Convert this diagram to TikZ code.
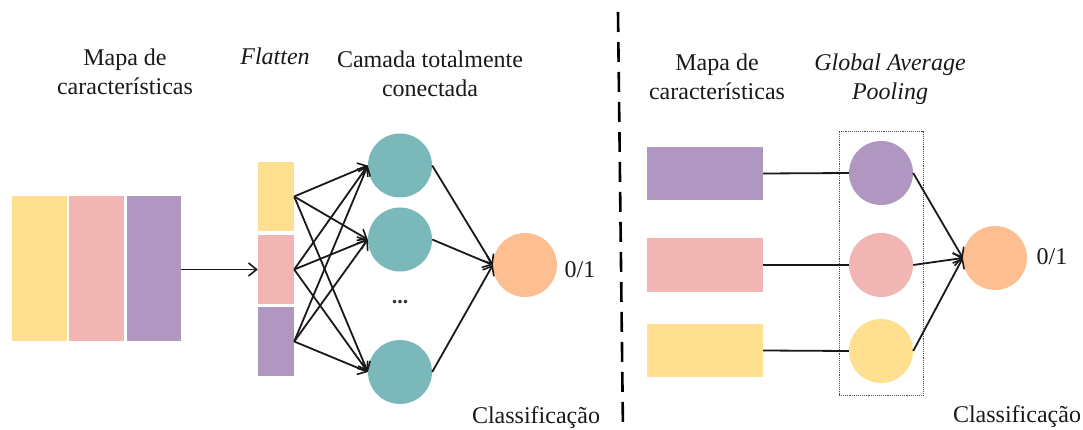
\documentclass[tikz,border=0pt]{standalone}
\usepackage{fontspec}
\setmainfont{Liberation Serif}
\usetikzlibrary{arrows.meta}

\definecolor{cyellow}{RGB}{255,224,145}
\definecolor{cpink}{RGB}{241,182,180}
\definecolor{cpurple}{RGB}{176,151,194}
\definecolor{cteal}{RGB}{122,184,186}
\definecolor{corange}{RGB}{253,190,146}

\tikzset{
  block/.style={rectangle, draw=none, inner sep=0pt},
  neuron/.style={circle, draw=none, inner sep=0pt, minimum size=64pt},
  lbl/.style={font=\fontsize{24}{29}\selectfont, inner sep=0pt, align=center, anchor=base, text=black!90},
  conn/.style={line width=1.8pt, black!90},
  arr/.style={conn, -{Straight Barb[length=8pt,width=13pt,line width=1.6pt]}},
}

\begin{document}
\begin{tikzpicture}[x=1pt, y=-1pt]
  \useasboundingbox (0,0) rectangle (1083,430);

  % ---------- left: flatten + fully connected ----------
  % two-line labels are anchored at the baseline of their last line
  \node[lbl] (tmap) at (125,95) {Mapa de\\características};
  \node[lbl] (tflat) at (275,65) {\itshape Flatten};
  \node[lbl] (tfc) at (430,97) {Camada totalmente\\conectada};

  \node[block, fill=cyellow, minimum width=55pt, minimum height=145pt] (fm1) at (39.5,268.5) {};
  \node[block, fill=cpink,   minimum width=55pt, minimum height=145pt] (fm2) at (96.5,268.5) {};
  \node[block, fill=cpurple, minimum width=54pt, minimum height=145pt] (fm3) at (154,268.5) {};

  \node[block, fill=cyellow, minimum width=36pt, minimum height=69pt] (fl1) at (276,196.5) {};
  \node[block, fill=cpink,   minimum width=36pt, minimum height=69pt] (fl2) at (276,269.5) {};
  \node[block, fill=cpurple, minimum width=36pt, minimum height=69pt] (fl3) at (276,341.5) {};

  \draw[arr] (fm3.east |- fl2.west) -- (fl2.west);

  \node[neuron, fill=cteal] (t1) at (400,165.5) {};
  \node[neuron, fill=cteal] (t2) at (400,239.5) {};
  \node[neuron, fill=cteal] (t3) at (400,372) {};
  \node[font=\fontsize{22}{22}\selectfont\bfseries, inner sep=0pt, text=black!80] (dots) at (400,302) {...};

  \node[neuron, fill=corange] (o1) at (525,265) {};
  \node[lbl] (v1) at (580,277) {0/1};
  \node[lbl] (cl1) at (536,423) {Classificação};

  \foreach \i in {1,2,3}
    \foreach \j in {1,2,3}
      \draw[arr] (fl\i.east) -- (t\j.west);
  \foreach \j in {1,2,3}
    \draw[arr] (t\j.east) -- (o1.west);

  % ---------- separator ----------
  \coordinate (sepTop) at (618,12);
  \coordinate (sepBot) at (623,432);
  \draw[line width=2.6pt, dash pattern=on 20pt off 10pt] (sepTop) -- (sepBot);

  % ---------- right: global average pooling ----------
  \node[lbl] (tmap2) at (717,100) {Mapa de\\características};
  \node[lbl] (tgap) at (890,100) {\itshape Global Average\\\itshape Pooling};

  \node[block, fill=cpurple, minimum width=116pt, minimum height=53pt] (r1) at (705,173.5) {};
  \node[block, fill=cpink,   minimum width=116pt, minimum height=54pt] (r2) at (705,265) {};
  \node[block, fill=cyellow, minimum width=116pt, minimum height=53pt] (r3) at (705,350.5) {};

  \node[rectangle, draw=black!70, densely dotted, line width=0.9pt,
        minimum width=84pt, minimum height=264pt, inner sep=0pt] (gap) at (881,263) {};

  \node[neuron, fill=cpurple] (c1) at (881,173) {};
  \node[neuron, fill=cpink]   (c2) at (881,265) {};
  \node[neuron, fill=cyellow] (c3) at (881,351) {};

  \node[neuron, fill=corange] (o2) at (995,258) {};
  \node[lbl] (v2) at (1052,265) {0/1};
  \node[lbl] (cl2) at (1017,422) {Classificação};

  \foreach \i in {1,2,3} {
    \draw[conn] (r\i.east) -- (c\i.west);
    \draw[arr] (c\i.east) -- (o2.west);
  }
\end{tikzpicture}
\end{document}
